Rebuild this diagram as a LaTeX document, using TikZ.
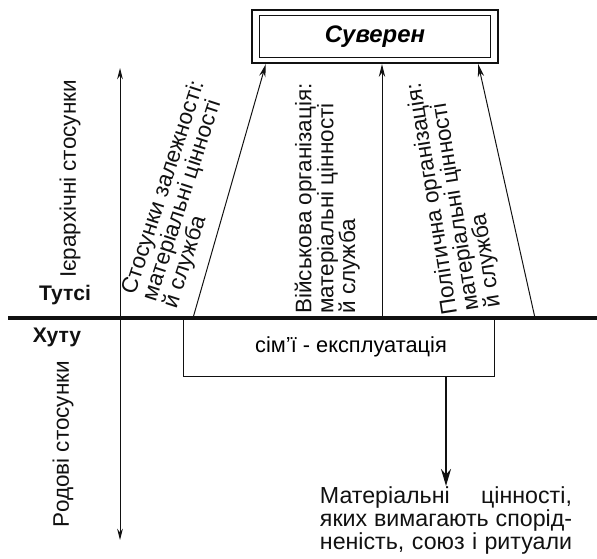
\documentclass[tikz,border=0pt]{standalone}
\usepackage{fontspec}
\setmainfont{Liberation Sans}
\usetikzlibrary{arrows.meta,positioning}
\definecolor{ink}{HTML}{111111}
\tikzset{
  sovbox/.style ={draw=ink, line width=1.7pt, minimum width=6.15cm,
                  minimum height=1.325cm, inner sep=0pt,
                  font=\fontsize{17}{18}\selectfont\bfseries\itshape},
  exbox/.style  ={draw=ink, line width=0.7pt, minimum width=7.75cm,
                  minimum height=1.45cm, inner sep=0pt,
                  font=\fontsize{15.5}{18}\selectfont},
  labtext/.style={font=\fontsize{16}{15.5}\selectfont, align=left,
                  inner sep=0pt, text=ink},
  sidetext/.style={font=\fontsize{16}{18}\selectfont, inner sep=0pt, text=ink},
  goodtext/.style={font=\fontsize{16.5}{15}\selectfont, align=left,
                  inner sep=0pt, text=ink},
  tribe/.style  ={font=\fontsize{15}{16}\selectfont\bfseries,
                  inner sep=0pt, text=ink},
  uparr/.style  ={-{Stealth[length=9pt,width=4.5pt]}, line width=0.7pt, draw=ink},
  downarr/.style={-{Stealth[length=12pt,width=7pt]}, line width=2pt, draw=ink},
  axisarr/.style={{Stealth[length=8pt,width=4pt]}-{Stealth[length=8pt,width=4pt]},
                  line width=0.7pt, draw=ink},
  divline/.style={line width=2.6pt, draw=ink},
}

\begin{document}
\begin{tikzpicture}[x=0.025cm, y=-0.025cm]
  \useasboundingbox (0,0) rectangle (597,558);
  % sovereign on top
  \node[sovbox] (suv) at (375,36.5) {Суверен};
  \draw[ink, line width=0.8pt] ([shift={(9,7)}]suv.north west)
    rectangle ([shift={(-9,-7)}]suv.south east);

  % hutu box hangs under the line
  \node[exbox] (exp) at (339,347) {\hspace{0.6cm}сім'ї - експлуатація};
  \coordinate (divL) at (8,318);
  \coordinate (divR) at (597,318);
  \draw[divline] (divL) -- (divR);
  \node[tribe] (tutsi) at (65,295) {Тутсі};
  \node[tribe] (hutu) at (57,337) {Хуту};

  % axis of relations
  \coordinate (axTop) at (120,68);
  \coordinate (axBot) at (120,540);
  \draw[axisarr] (axBot) -- (axTop);
  \node[sidetext, rotate=90] (hier) at (70,179) {Ієрархічні стосунки};
  \node[sidetext, rotate=90] (kin) at (63,444) {Родові стосунки};

  % flows up to the sovereign
  \coordinate (f1) at (193,318);
  \coordinate (f2) at (382,318);
  \coordinate (f3) at (535,318);
  \draw[uparr] (f1) -- ([shift={(15,0)}]suv.south west);
  \draw[uparr] (f2) -- (f2 |- suv.south);
  \draw[uparr] (f3) -- ([shift={(-21,0)}]suv.south east);
  \node[labtext, rotate=72, anchor=south west] (lab1) at (181,311)
    {Стосунки залежності:\\матеріальні цінності\\й служба};
  \node[labtext, rotate=90, anchor=south west] (lab2) at (360,314)
    {Військова організація:\\матеріальні цінності\\й служба};
  \node[labtext, rotate=99, anchor=south west] (lab3) at (505,306)
    {Політична організація:\\матеріальні цінності\\й служба};

  % goods going down
  \node[goodtext, anchor=north] (mat) at (446,486)
    {\makebox[6.3cm][s]{Матеріальні цінності,}\\
     \makebox[6.3cm][s]{яких вимагають спорід-}\\
     \makebox[6.3cm][s]{неність, союз і ритуали}};
  \draw[downarr] (exp.south -| mat.north) -- (mat.north);
\end{tikzpicture}
\end{document}
